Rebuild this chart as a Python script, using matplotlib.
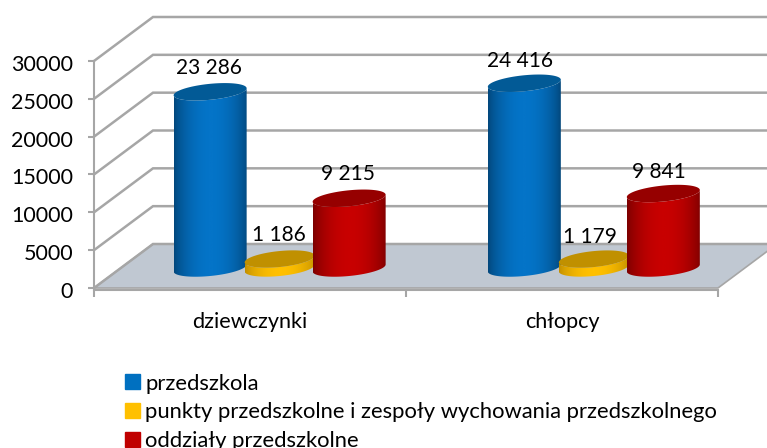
import numpy as np
import matplotlib
matplotlib.use("Agg")
import matplotlib.pyplot as plt
from matplotlib.patches import Patch, Polygon
from matplotlib.path import Path
from matplotlib.colors import LinearSegmentedColormap
from matplotlib.transforms import ScaledTranslation

plt.rcParams['font.family'] = ['Lato', 'DejaVu Sans']

groups = ["dziewczynki", "chłopcy"]
series = ["przedszkola", "punkty przedszkolne i zespoły wychowania przedszkolnego",
          "oddziały przedszkolne"]
values = [[23286, 1186, 9215],
          [24416, 1179, 9841]]
yticks = [0, 5000, 10000, 15000, 20000, 25000, 30000]
colors = ["#0474C8", "#FFC000", "#C80000"]
legend_colors = ["#0070C0", "#FFC000", "#C00000"]
edge_colors = ["#02467A", "#C08E00", "#7A0000"]
top_colors = ["#025A96", "#C09000", "#960000"]

W, H = 767, 448
grid = "#A6A6A6"

fig = plt.figure(figsize=(W / 100, H / 100), dpi=100)
ax = fig.add_axes([94 / W, (H - 288) / H, 624 / W, 227 / H])

px_x = 2 / 624       # data units per pixel
px_y = 30000 / 227
depth_x = 59 * px_x
depth_y = 44 * px_y
bar_half = 36.5 * px_x
ell_b = 8 * px_y
ell_tilt = 3.5 * px_y
base_y = 20 * px_y
step = 69.5 * px_x


def ellipse(cx, cy, half, t):
    return (cx + half * np.cos(t),
            cy + ell_b * np.sin(t) + ell_tilt * np.cos(t) * half / bar_half)


def cylinder(cx, v, half, i, z):
    cy0, cy1 = base_y, base_y + v
    t = np.linspace(np.pi, 2 * np.pi, 60)
    bx, by = ellipse(cx, cy0, half, t)
    tx, ty = ellipse(cx, cy1, half, t[::-1])
    verts = np.column_stack([np.r_[bx, tx], np.r_[by, ty]])
    cmap = LinearSegmentedColormap.from_list("c", [edge_colors[i], colors[i]])
    grad = np.sin(np.linspace(0, np.pi, 128)) ** 0.7
    im = ax.imshow(grad[None, :], cmap=cmap, aspect="auto", zorder=z,
                   extent=[cx - half, cx + half, cy0 - 2 * ell_b, cy1 + 2 * ell_b])
    im.set_clip_box(fig.bbox)
    im.set_clip_path(Path(verts), ax.transData)
    tt = np.linspace(0, 2 * np.pi, 120)
    ex, ey = ellipse(cx, cy1, half, tt)
    ax.fill(ex, ey, color=top_colors[i], zorder=z + 0.1, clip_on=False, lw=0)


# back wall and floor
xmax = 2.3
ax.add_patch(Polygon([(0, 0), (depth_x, depth_y), (2 + depth_x, depth_y), (2, 0)],
                     fc="#C0C8D2", ec=grid, lw=1.2, clip_on=False, zorder=1))
for v in yticks:
    ax.plot([0, depth_x, xmax], [v, v + depth_y, v + depth_y], color=grid, lw=1.8,
            clip_on=False, zorder=1 if v else 1.5, solid_joinstyle="miter")

half_w = [bar_half, 35 * px_x, bar_half]
z = 3
for g, vals in enumerate(values):
    for i, v in enumerate(vals):
        cx = g * 1.007 + 0.595 + (i - 1) * step
        cylinder(cx, v, half_w[i], i, z)
        z += 1
        label = f"{v:,}".replace(",", " ")
        ax.annotate(label, (cx, base_y + v), xytext=(-1 - 3 * g, 24 - 2 * g), textcoords="offset pixels",
                    ha="center", va="center", fontsize=15, color="black",
                    zorder=20, annotation_clip=False)

ax.set_xlim(0, 2)
ax.set_ylim(0, 30000)
ax.patch.set_visible(False)
for s in ["top", "right"]:
    ax.spines[s].set_visible(False)
ax.spines["left"].set(color=grid, linewidth=1.5)
ax.spines["bottom"].set(color=grid, linewidth=1.5, position=("outward", 1.5))
ax.set_yticks(yticks)
ax.tick_params(axis="y", length=4, width=1.5, color=grid, labelsize=15.5, pad=11)
# tick labels sit a little lower than the ticks
nudge = ScaledTranslation(0, -2 / 100, fig.dpi_scale_trans)
for lab in ax.get_yticklabels():
    lab.set_transform(lab.get_transform() + nudge)
ax.set_xticks([0, 1, 2])
ax.set_xticklabels([])
ax.tick_params(axis="x", length=5, width=1.5, color=grid)
ax.set_xticks([0.5, 1.5], minor=True)
ax.set_xticklabels(groups, minor=True, fontsize=15.6)
ax.tick_params(axis="x", which="minor", length=0, pad=15.5)

handles = [Patch(color=c, label=s) for c, s in zip(legend_colors, series)]
fig.legend(handles=handles, loc="upper left", bbox_to_anchor=(118 / W, (H - 367) / H),
           frameon=False, fontsize=15.8, handlelength=0.68, handleheight=0.68,
           handletextpad=0.27, labelspacing=0.4, borderpad=0.3, borderaxespad=0)

fig.savefig("out.png", dpi=100)
